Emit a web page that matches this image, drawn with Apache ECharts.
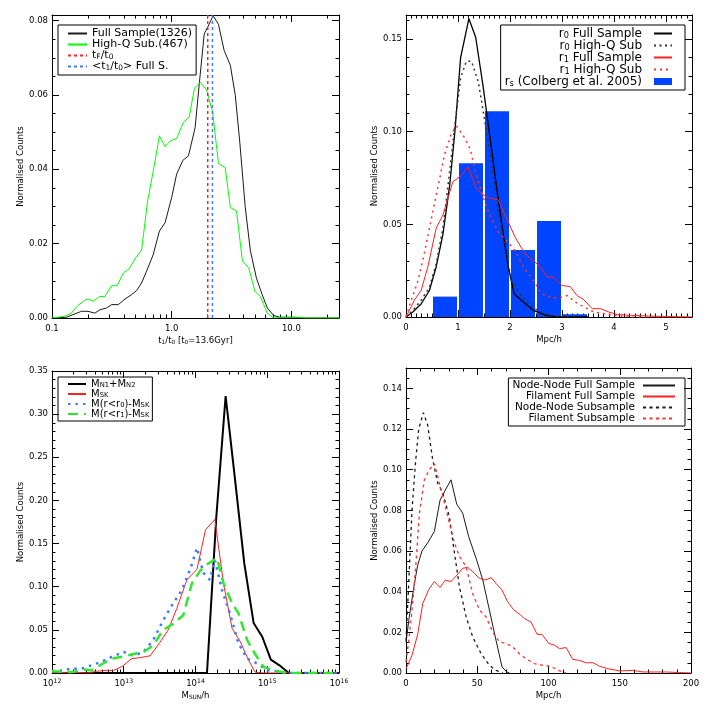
<!DOCTYPE html>
<html><head><meta charset="utf-8">
<script src="https://cdn.jsdelivr.net/npm/echarts@6/dist/echarts.min.js"></script>
<style>html,body{margin:0;padding:0;background:#fff}#c{width:706px;height:706px}</style>
</head><body><div id="c"></div>
<script>
// ---------------- Panel 1 : t1/t0 distribution ----------------
const p1FullX = [0.1,0.132,0.176,0.2,0.228,0.251,0.286,0.315,0.358,0.407,0.463,0.51,0.56,0.617,0.70,0.79,0.88,1.0,1.10,1.24,1.38,1.57,1.70,1.87,2.06,2.22,2.46,2.74,3.09,3.4,3.7,4.12,4.55,5.1,5.7,6.3,7.1,8.0,8.9,10.5,12,25];
const p1FullY = [0,0.0002,0.0018,0.0018,0.0013,0.0022,0.0027,0.0036,0.0036,0.0051,0.0063,0.0074,0.0094,0.0126,0.017,0.0234,0.0256,0.0324,0.0387,0.0424,0.0436,0.0512,0.063,0.0764,0.0791,0.0813,0.079,0.072,0.068,0.0599,0.0476,0.0297,0.018,0.0108,0.0063,0.0027,0.0007,0.0002,0.0002,0.0002,0,0];
const p1HighX = [0.1,0.112,0.128,0.145,0.165,0.188,0.2,0.22,0.25,0.277,0.315,0.35,0.395,0.44,0.50,0.56,0.63,0.71,0.79,0.88,0.97,1.1,1.25,1.40,1.55,1.73,1.96,2.2,2.46,2.8,3.09,3.48,3.9,4.4,4.95,5.5,6.3,7.1,8.1,9.2,11.6,13,25];
const p1HighY = [0,0.0002,0.0005,0.0013,0.0034,0.0048,0.0051,0.0045,0.0058,0.0058,0.0087,0.0087,0.0121,0.0132,0.0162,0.0182,0.0315,0.0405,0.049,0.0461,0.0476,0.0483,0.0526,0.054,0.0618,0.0634,0.0613,0.0553,0.0415,0.0405,0.0297,0.0288,0.0153,0.0135,0.0072,0.0058,0.0013,0,0.0002,0.0002,0.0002,0,0];
const p1TfT0 = 2.0;
const p1MeanT1T0 = 2.19;
const p1XMajor = [0.1, 1, 10];
const p1YMajor = [0, 0.02, 0.04, 0.06, 0.08];

// ---------------- Panel 2 : r0 / r1 distributions ----------------
const p2R0FullX = [0,0.13,0.29,0.45,0.58,0.71,0.84,0.94,1.05,1.21,1.34,1.48,1.61,1.74,1.87,1.97,2.08,2.26,2.45,2.68,2.9,3.5];
const p2R0FullY = [0,0.0027,0.007,0.0143,0.027,0.0446,0.071,0.1,0.14,0.161,0.151,0.125,0.098,0.0705,0.0446,0.0268,0.0125,0.008,0.0036,0.001,0,0];
const p2R0HighX = [0,0.13,0.29,0.45,0.58,0.71,0.84,0.94,1.05,1.16,1.26,1.39,1.52,1.65,1.77,1.9,2.03,2.19,2.39,2.58,2.84,3.2];
const p2R0HighY = [0,0.0036,0.009,0.016,0.0286,0.048,0.0786,0.1036,0.129,0.138,0.138,0.127,0.105,0.082,0.059,0.0375,0.0196,0.0125,0.006,0.0027,0.0004,0];
const p2R1FullX = [0,0.16,0.29,0.42,0.58,0.71,0.9,1.05,1.19,1.35,1.48,1.61,1.77,1.9,2.1,2.29,2.45,2.58,2.71,2.84,3.0,3.16,3.29,3.42,3.58,3.74,3.9,4.06,4.32,4.77,5.5];
const p2R1FullY = [0,0.009,0.0143,0.027,0.048,0.055,0.073,0.076,0.081,0.0696,0.066,0.064,0.0634,0.0554,0.043,0.034,0.0304,0.027,0.0218,0.0214,0.017,0.0164,0.0116,0.0093,0.0045,0.0045,0.0027,0.0013,0.0009,0.0004,0];
const p2R1HighX = [0,0.1,0.23,0.35,0.48,0.61,0.74,0.87,0.97,1.1,1.23,1.35,1.48,1.61,1.77,1.94,2.1,2.26,2.45,2.61,2.77,2.94,3.1,3.26,3.42,3.61,3.81,4.0,4.32,5.5];
const p2R1HighY = [0,0.009,0.0196,0.034,0.052,0.0696,0.0875,0.099,0.103,0.098,0.091,0.077,0.065,0.055,0.046,0.041,0.0357,0.027,0.0196,0.0125,0.0107,0.0102,0.0116,0.008,0.0054,0.0027,0.0018,0.0009,0,0];
const p2BinLo = [0.5, 1.0, 1.5, 2.0, 2.5, 3.0];
const p2BinHi = [1.0, 1.5, 2.0, 2.5, 3.0, 3.5];
const p2BinVal = [0.011, 0.083, 0.111, 0.0362, 0.0518, 0.0015];
const p2XMajor = [0, 1, 2, 3, 4, 5];
const p2YMajor = [0, 0.05, 0.10, 0.15];

// ---------------- Panel 3 : mass distributions (x = log10 mass) ----------------
const p3NodeLogM = [12,14.16,14.29,14.42,14.55,14.68,14.81,14.93,15.05,15.17,15.30,16];
const p3NodeY = [0,0,0.181,0.321,0.225,0.127,0.058,0.042,0.0155,0.0089,0,0];
const p3SkLogM = [12,12.27,12.5,12.62,12.74,12.86,12.98,13.11,13.23,13.37,13.5,13.62,13.74,13.88,14.02,14.14,14.27,14.39,14.51,14.62,14.74,14.83,14.95,16];
const p3SkY = [0,0.001,0,0.002,0.003,0.003,0.0078,0.0167,0.0178,0.02,0.035,0.05,0.075,0.108,0.12,0.166,0.178,0.104,0.0516,0.037,0.0147,0.001,0,0];
const p3R0LogM = [12,12.15,12.27,12.41,12.55,12.69,12.83,13.0,13.13,13.27,13.41,13.55,13.69,13.81,13.93,14.02,14.11,14.2,14.27,14.37,14.48,14.6,14.72,14.86,15.0,15.14,15.28,16];
const p3R0Y = [0.002,0.003,0.005,0.005,0.009,0.013,0.0186,0.0244,0.02,0.024,0.038,0.061,0.081,0.096,0.121,0.145,0.116,0.108,0.131,0.096,0.069,0.034,0.0167,0.011,0.003,0.002,0,0];
const p3R1LogM = [12,12.27,12.46,12.55,12.67,12.83,13.0,13.13,13.27,13.41,13.55,13.69,13.83,13.95,14.07,14.18,14.3,14.39,14.51,14.6,14.72,14.83,14.95,15.09,15.28,16];
const p3R1Y = [0.002,0.001,0.004,0.003,0.009,0.0167,0.019,0.022,0.024,0.032,0.05,0.057,0.067,0.104,0.119,0.127,0.133,0.104,0.081,0.069,0.038,0.022,0.007,0.003,0,0];
const p3XMajor = [1e12, 1e13, 1e14, 1e15, 1e16];
const p3YMajor = [0, 0.05, 0.10, 0.15, 0.20, 0.25, 0.30, 0.35];

// ---------------- Panel 4 : lengths ----------------
const p4NNFullX = [0,2.3,5.9,8.2,11.2,15.2,19.9,23.9,27.6,31.6,35.6,39.8,44.0,49.2,53.9,58.5,63.2,67.4,70.7,72.6];
const p4NNFullY = [0.015,0.0276,0.044,0.053,0.06,0.064,0.0696,0.085,0.09,0.095,0.083,0.0786,0.067,0.0564,0.0457,0.031,0.016,0.003,0.0005,0];
const p4FilFullX = [0,4.2,8.2,11.7,15.9,19.9,23.9,27.6,31.6,35.6,39.8,43.3,48,51.5,55.5,59.7,63.2,67.2,71.4,75.6,79.6,83.1,87.8,92,95.5,100.2,104.2,107.7,112.4,117,121.8,126.5,131.1,135.8,141.7,150,159.2,166.3,173.3,182.7,192,200];
const p4FilFullY = [0.002,0.0087,0.019,0.034,0.041,0.045,0.042,0.0457,0.045,0.048,0.0515,0.052,0.049,0.0465,0.0457,0.0469,0.044,0.041,0.035,0.031,0.029,0.0268,0.025,0.019,0.019,0.0145,0.0137,0.012,0.0125,0.0067,0.0062,0.005,0.0051,0.0033,0.0021,0.001,0.0013,0.0005,0.0005,0.0005,0.0002,0];
const p4NNSubX = [0,1.9,4.2,6.6,8.9,12.2,15.2,18.7,22.2,25.8,30.4,34,37.5,42.2,46.8,52.7,58.5,63.2,67.9];
const p4NNSubY = [0.016,0.044,0.08,0.103,0.12,0.128,0.122,0.105,0.0935,0.0885,0.077,0.059,0.0424,0.0276,0.0178,0.0095,0.0038,0.0013,0];
const p4FilSubX = [0,2.3,4.7,7.0,9.4,12.9,16.4,19.9,23.4,27,30.4,34,37.5,42.2,46.8,51.5,56.2,60.9,65.6,70.3,75,79.6,84.3,90.2,96,101.8,106.6,112.4];
const p4FilSubY = [0.0054,0.018,0.034,0.054,0.0786,0.095,0.1,0.103,0.0935,0.0836,0.0737,0.064,0.0573,0.0523,0.039,0.031,0.0276,0.02,0.0153,0.0145,0.0128,0.0095,0.007,0.0046,0.0038,0.0033,0.0013,0];
const p4XMajor = [0, 50, 100, 150, 200];
const p4YMajor = [0, 0.02, 0.04, 0.06, 0.08, 0.10, 0.12, 0.14];

// ---------------- helpers ----------------
const FONT = 'DejaVu Sans';
const AX = '#000';
function zip(xs, ys) { return xs.map((x, i) => [x, ys[i]]); }
function linMinor(min, max, step) {
  const out = []; const n = Math.round((max - min) / step);
  for (let i = 0; i <= n; i++) out.push(+(min + i * step).toFixed(6));
  return out;
}
function logMinor(lo, hi, kmin, kmax) {
  const out = [];
  for (let k = kmin; k <= kmax; k++) for (let m = 2; m <= 9; m++) {
    const v = m * Math.pow(10, k); if (v > lo && v < hi) out.push(v);
  }
  return out;
}
function mkRich(fs, lh) {
  return {
    b: { fontFamily: FONT, fontSize: fs, lineHeight: lh, color: '#000' },
    sub: { fontFamily: FONT, fontSize: Math.round(fs * 0.68 * 10) / 10, lineHeight: 2, verticalAlign: 'bottom', color: '#000' },
    sup: { fontFamily: FONT, fontSize: Math.round(fs * 0.72 * 10) / 10, lineHeight: 2, verticalAlign: 'top', color: '#000' }
  };
}
function axisSet(grid, pos, type, min, max, majors, minors, label, nameOpt) {
  const common = { gridIndex: grid, position: pos, type: type, min: min, max: max, splitLine: { show: false }, silent: true };
  if (type === 'log') common.logBase = 10;
  const major = Object.assign({}, common, {
    axisLine: { show: true, onZero: false, lineStyle: { color: AX, width: 1 } },
    axisTick: { show: true, inside: true, length: 7, customValues: majors, lineStyle: { color: AX, width: 1 } },
    axisLabel: label ? Object.assign({ show: true, customValues: majors, color: '#000', fontFamily: FONT, fontSize: 8.5, lineHeight: 11, rich: mkRich(8.5, 11) }, label) : { show: false }
  });
  if (nameOpt) Object.assign(major, nameOpt);
  const minor = Object.assign({}, common, {
    axisLine: { show: false, onZero: false },
    axisTick: { show: true, inside: true, length: 3.5, customValues: minors, lineStyle: { color: AX, width: 1 } },
    axisLabel: { show: false }
  });
  return [major, minor];
}
function xName(text, gap) {
  return { name: text, nameLocation: 'middle', nameGap: gap, nameTextStyle: { fontFamily: FONT, fontSize: 8.5, color: '#000', lineHeight: 11, rich: mkRich(8.5, 11) } };
}
const yName = { name: 'Normalised Counts', nameLocation: 'middle', nameGap: 27, nameRotate: 90, nameTextStyle: { fontFamily: FONT, fontSize: 8.5, color: '#000' } };
const f2 = v => v.toFixed(2);

// ---------------- axes ----------------
const grids = [
  { left: 52, top: 15, width: 287, height: 303 },
  { left: 406, top: 15, width: 286, height: 302 },
  { left: 52, top: 371, width: 287, height: 302 },
  { left: 406, top: 368, width: 285, height: 305 }
];
const xAxes = [], yAxes = [];
const p1XMinor = logMinor(0.1, 25, -1, 1);
xAxes.push(...axisSet(0, 'bottom', 'log', 0.1, 25, p1XMajor, p1XMinor, { margin: 5, formatter: v => (+v).toFixed(1) }, xName('{b|t}{sub|1}{b|/t}{sub|0}{b| [t}{sub|0}{b|=13.6Gyr]}', 16)));
xAxes.push(...axisSet(0, 'top', 'log', 0.1, 25, p1XMajor, p1XMinor, null));
yAxes.push(...axisSet(0, 'left', 'value', 0, 0.0815, p1YMajor, linMinor(0, 0.08, 0.005), { margin: 4, formatter: f2 }, yName));
yAxes.push(...axisSet(0, 'right', 'value', 0, 0.0815, p1YMajor, linMinor(0, 0.08, 0.005), null));
xAxes.push(...axisSet(1, 'bottom', 'value', 0, 5.5, p2XMajor, linMinor(0, 5.5, 0.1), { margin: 5, formatter: v => String(v) }, xName('Mpc/h', 14)));
xAxes.push(...axisSet(1, 'top', 'value', 0, 5.5, p2XMajor, linMinor(0, 5.5, 0.1), null));
yAxes.push(...axisSet(1, 'left', 'value', 0, 0.163, p2YMajor, linMinor(0, 0.16, 0.01), { margin: 4, formatter: f2 }, yName));
yAxes.push(...axisSet(1, 'right', 'value', 0, 0.163, p2YMajor, linMinor(0, 0.16, 0.01), null));
const p3XMinor = logMinor(1e12, 1e16, 12, 15);
xAxes.push(...axisSet(2, 'bottom', 'log', 1e12, 1e16, p3XMajor, p3XMinor, { margin: 5, formatter: v => '{b|10}{sup|' + Math.round(Math.log10(v)) + '}' }, xName('{b|M}{sub|SUN}{b|/h}', 15)));
xAxes.push(...axisSet(2, 'top', 'log', 1e12, 1e16, p3XMajor, p3XMinor, null));
yAxes.push(...axisSet(2, 'left', 'value', 0, 0.35, p3YMajor, linMinor(0, 0.35, 0.01), { margin: 4, formatter: f2 }, yName));
yAxes.push(...axisSet(2, 'right', 'value', 0, 0.35, p3YMajor, linMinor(0, 0.35, 0.01), null));
xAxes.push(...axisSet(3, 'bottom', 'value', 0, 200, p4XMajor, linMinor(0, 200, 10), { margin: 5, formatter: v => String(v) }, xName('Mpc/h', 13)));
xAxes.push(...axisSet(3, 'top', 'value', 0, 200, p4XMajor, linMinor(0, 200, 10), null));
yAxes.push(...axisSet(3, 'left', 'value', 0, 0.15, p4YMajor, linMinor(0, 0.15, 0.005), { margin: 4, formatter: f2 }, yName));
yAxes.push(...axisSet(3, 'right', 'value', 0, 0.15, p4YMajor, linMinor(0, 0.15, 0.005), null));

// ---------------- series ----------------
function line(name, g, data, color, width, type, z) {
  return {
    name: name, type: 'line', xAxisIndex: 4 * g, yAxisIndex: 4 * g, data: data,
    symbol: 'none', showSymbol: false, animation: false, silent: true, z: z || 3,
    lineStyle: { color: color, width: width, type: type || 'solid', cap: 'butt' },
    itemStyle: { color: color }
  };
}
const N = {
  full1: 'Full Sample(1326)', high1: 'High-Q Sub.(467)', tf: 'tF/t0', mean: '<t1/t0> Full S.',
  r0f: 'r0 Full Sample', r0h: 'r0 High-Q Sub', r1f: 'r1 Full Sample', r1h: 'r1 High-Q Sub', rs: 'rs (Colberg et al. 2005)',
  mn: 'MN1+MN2', msk: 'MSK', mr0: 'M(r<r0)-MSK', mr1: 'M(r<r1)-MSK',
  nnf: 'Node-Node Full Sample', ff: 'Filament Full Sample', nns: 'Node-Node Subsample', fs: 'Filament Subsample'
};
const RICH = {};
RICH[N.tf] = '{b|t}{sub|F}{b|/t}{sub|0}';
RICH[N.mean] = '{b|<t}{sub|1}{b|/t}{sub|0}{b|> Full S.}';
RICH[N.r0f] = '{b|r}{sub|0}{b| Full Sample}';
RICH[N.r0h] = '{b|r}{sub|0}{b| High-Q Sub}';
RICH[N.r1f] = '{b|r}{sub|1}{b| Full Sample}';
RICH[N.r1h] = '{b|r}{sub|1}{b| High-Q Sub}';
RICH[N.rs] = '{b|r}{sub|s}{b| (Colberg et al. 2005)}';
RICH[N.mn] = '{b|M}{sub|N1}{b|+M}{sub|N2}';
RICH[N.msk] = '{b|M}{sub|SK}';
RICH[N.mr0] = '{b|M(r<r}{sub|0}{b|)-M}{sub|SK}';
RICH[N.mr1] = '{b|M(r<r}{sub|1}{b|)-M}{sub|SK}';

const series = [];
series.push(line(N.full1, 0, zip(p1FullX, p1FullY), '#1a1a1a', 1));
series.push(line(N.high1, 0, zip(p1HighX, p1HighY), '#00ff00', 1));
series.push(line(N.tf, 0, [[p1TfT0, 0], [p1TfT0, 0.0815]], '#ff2020', 1.5, [3, 3]));
series.push(line(N.mean, 0, [[p1MeanT1T0, 0], [p1MeanT1T0, 0.0815]], '#3a7bff', 1.5, [3, 3]));
series.push({
  name: N.rs, type: 'custom', xAxisIndex: 4, yAxisIndex: 4, animation: false, silent: true, z: 1,
  itemStyle: { color: '#0044ff' },
  encode: { x: [0, 1], y: 2 },
  data: p2BinLo.map((lo, i) => [lo, p2BinHi[i], p2BinVal[i]]),
  renderItem: function (params, api) {
    const a = api.coord([api.value(0), api.value(2)]);
    const b = api.coord([api.value(1), 0]);
    return { type: 'rect', shape: { x: a[0] + 1, y: a[1], width: b[0] - a[0] - 2, height: b[1] - a[1] }, style: { fill: '#0044ff' } };
  }
});
series.push(line(N.r0f, 1, zip(p2R0FullX, p2R0FullY), '#000', 1.3));
series.push(line(N.r0h, 1, zip(p2R0HighX, p2R0HighY), '#333', 1.5, [2, 3.5]));
series.push(line(N.r1f, 1, zip(p2R1FullX, p2R1FullY), '#ff2020', 1));
series.push(line(N.r1h, 1, zip(p2R1HighX, p2R1HighY), '#ff3030', 1.5, [2, 4]));
const pow10 = e => Math.pow(10, e);
series.push(line(N.mn, 2, zip(p3NodeLogM.map(pow10), p3NodeY), '#000', 2));
series.push(line(N.msk, 2, zip(p3SkLogM.map(pow10), p3SkY), '#ff2020', 1));
series.push(line(N.mr0, 2, zip(p3R0LogM.map(pow10), p3R0Y), '#3a7bff', 2.5, [2.5, 5]));
series.push(line(N.mr1, 2, zip(p3R1LogM.map(pow10), p3R1Y), '#33e633', 2.5, [10, 6]));
series.push(line(N.nnf, 3, zip(p4NNFullX, p4NNFullY), '#1a1a1a', 1));
series.push(line(N.ff, 3, zip(p4FilFullX, p4FilFullY), '#ff2020', 1));
series.push(line(N.nns, 3, zip(p4NNSubX, p4NNSubY), '#1a1a1a', 1.3, [3, 3.5]));
series.push(line(N.fs, 3, zip(p4FilSubX, p4FilSubY), '#ff3030', 1.3, [3, 3.5]));

// ---------------- legends ----------------
function legend(names, pos, fs, lh, opts) {
  return Object.assign({
    orient: 'vertical', data: names, selectedMode: false,
    borderColor: '#000', borderWidth: 1, borderRadius: 0, backgroundColor: 'transparent',
    itemWidth: 19, itemHeight: 8, itemGap: 0,
    itemStyle: { opacity: 0 },
    textStyle: { fontFamily: FONT, fontSize: fs, color: '#000', lineHeight: lh, rich: mkRich(fs, lh) },
    formatter: n => RICH[n] || ('{b|' + n + '}')
  }, pos, opts || {});
}
const legends = [
  legend([N.full1, N.high1, N.tf, N.mean], { left: 58, top: 25 }, 11, 10.8, { padding: [3, 4, 3, 9] }),
  legend([N.r0f, N.r0h, N.r1f, N.r1h, { name: N.rs, icon: 'rect', itemStyle: { opacity: 1, color: '#0044ff' } }], { right: 21, top: 25 }, 12, 12,
    { align: 'right', itemWidth: 18, itemHeight: 7, padding: [2.5, 12, 2.5, 4] }),
  legend([N.mn, N.msk, N.mr0, N.mr1], { left: 58, top: 377 }, 10, 10, { itemWidth: 18, padding: [2, 3, 2, 9] }),
  legend([N.nnf, N.ff, N.nns, N.fs], { right: 21, top: 378 }, 10.5, 10.3, { align: 'right', itemWidth: 32, padding: [2, 9, 2, 4] })
];
legends[1].textStyle.padding = [0, 7, 0, 0];
legends[3].textStyle.padding = [0, 3, 0, 0];

const chart = echarts.init(document.getElementById('c'), null, { renderer: 'canvas' });
chart.setOption({
  backgroundColor: '#fff',
  animation: false,
  grid: grids,
  xAxis: xAxes,
  yAxis: yAxes,
  legend: legends,
  series: series
});
</script></body></html>
